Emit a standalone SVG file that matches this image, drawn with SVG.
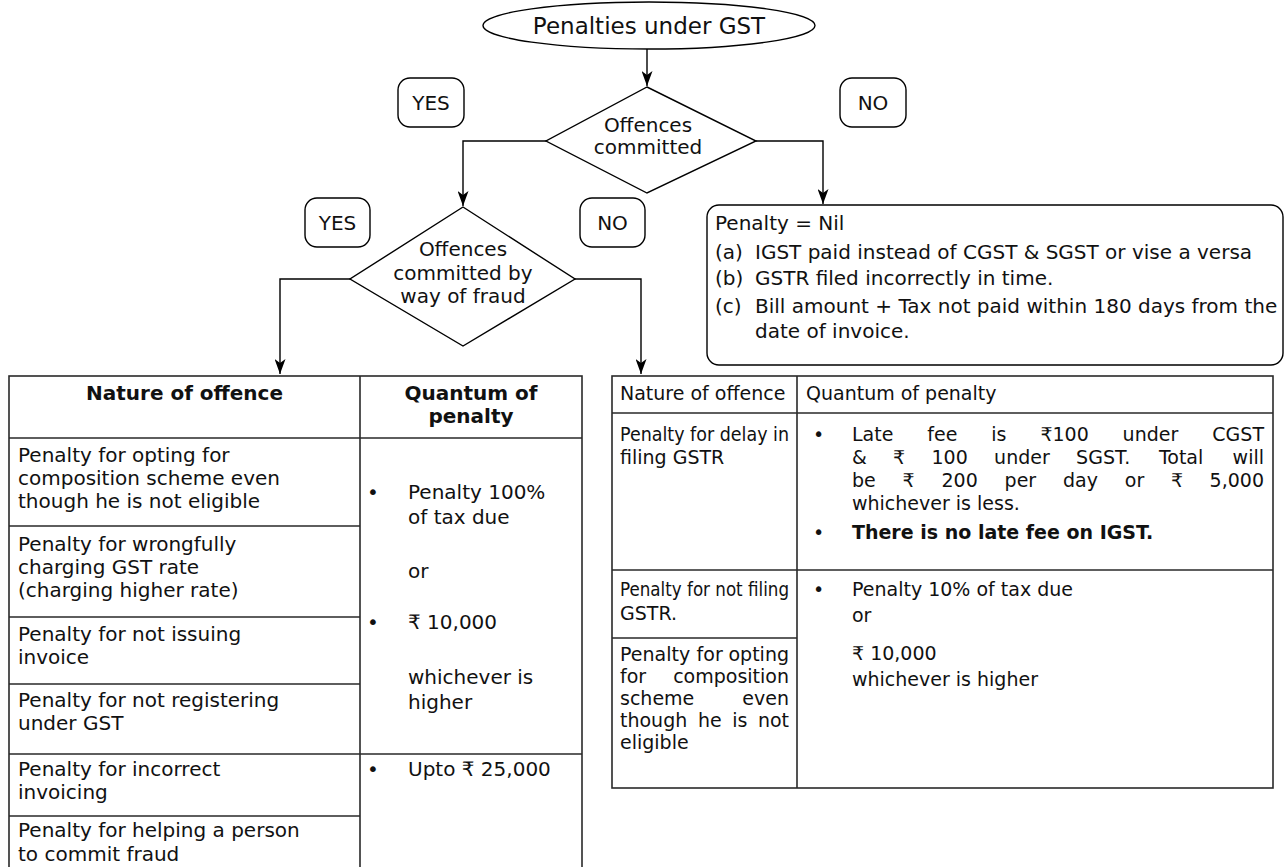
<svg xmlns="http://www.w3.org/2000/svg" width="1285" height="867" viewBox="0 0 1285 867">
<defs>
<style>
.t{font-family:"DejaVu Sans","Liberation Sans",sans-serif;font-size:20px;fill:#111}
.s{font-size:19px}
.h{font-size:23px}
.b{font-weight:bold}
.c{text-anchor:middle}
.e{text-anchor:end}
.shape{fill:#fff;stroke:#000;stroke-width:1.4}
.tbl{fill:none;stroke:#2a2a2a;stroke-width:1.6}
.conn{fill:none;stroke:#000;stroke-width:1.4}
</style>
<marker id="arr" viewBox="0 0 15 11" refX="15" refY="5.5" markerWidth="15" markerHeight="11" markerUnits="userSpaceOnUse" orient="auto">
<path d="M0,0 L15,5.5 L0,11 L4,5.5 z" fill="#000"/>
</marker>
</defs>
<rect width="1285" height="867" fill="#fff"/>

<g id="connectors">
<path class="conn" d="M647,49 V86" marker-end="url(#arr)"/>
<path class="conn" d="M546,141 H463 V206" marker-end="url(#arr)"/>
<path class="conn" d="M756,141 H823 V204" marker-end="url(#arr)"/>
<path class="conn" d="M350,279 H280 V374" marker-end="url(#arr)"/>
<path class="conn" d="M575,279 H641 V374" marker-end="url(#arr)"/>
</g>

<g id="start">
<ellipse class="shape" cx="649" cy="25.5" rx="166" ry="23.5"/>
<text class="t h c" x="649" y="34">Penalties under GST</text>
</g>

<g id="decision1">
<polygon class="shape" points="647,87 756,141 647,193 546,141"/>
<text class="t c" x="648" y="132">Offences</text>
<text class="t c" x="648" y="154">committed</text>
</g>

<g id="yes1">
<rect class="shape" x="398" y="78" width="66" height="49" rx="12"/>
<text class="t c" x="431" y="110">YES</text>
</g>
<g id="no1">
<rect class="shape" x="840" y="78" width="66" height="49" rx="12"/>
<text class="t c" x="873" y="110">NO</text>
</g>

<g id="decision2">
<polygon class="shape" points="463,207 575,279 463,346 350,279"/>
<text class="t c" x="463" y="256">Offences</text>
<text class="t c" x="463" y="280">committed by</text>
<text class="t c" x="463" y="303">way of fraud</text>
</g>

<g id="yes2">
<rect class="shape" x="305" y="198" width="65" height="49" rx="12"/>
<text class="t c" x="337.5" y="230">YES</text>
</g>
<g id="no2">
<rect class="shape" x="580" y="198" width="65" height="49" rx="12"/>
<text class="t c" x="612.5" y="230">NO</text>
</g>

<g id="nil">
<rect class="shape" x="707" y="205" width="576" height="160" rx="12"/>
<text class="t" x="715" y="230">Penalty = Nil</text>
<text class="t" x="715" y="259">(a)</text>
<text class="t" x="755" y="259">IGST paid instead of CGST &amp; SGST or vise a versa</text>
<text class="t" x="715" y="285">(b)</text>
<text class="t" x="755" y="285">GSTR filed incorrectly in time.</text>
<text class="t" x="715" y="313">(c)</text>
<text class="t" x="755" y="313">Bill amount + Tax not paid within 180 days from the</text>
<text class="t" x="755" y="338">date of invoice.</text>
</g>

<g id="fraud-table">
<rect class="tbl" x="9" y="376" width="573" height="504"/>
<path class="tbl" d="M360,376 V880 M9,438 H582 M9,526 H360 M9,617 H360 M9,684 H360 M9,754 H582 M9,816 H360"/>
<text class="t b c" x="184.5" y="400">Nature of offence</text>
<text class="t b c" x="471" y="400">Quantum of</text>
<text class="t b c" x="471" y="423">penalty</text>
<text class="t" x="18" y="462">Penalty for opting for</text>
<text class="t" x="18" y="485">composition scheme even</text>
<text class="t" x="18" y="508">though he is not eligible</text>
<text class="t" x="18" y="551">Penalty for wrongfully</text>
<text class="t" x="18" y="574">charging GST rate</text>
<text class="t" x="18" y="597">(charging higher rate)</text>
<text class="t" x="18" y="641">Penalty for not issuing</text>
<text class="t" x="18" y="664">invoice</text>
<text class="t" x="18" y="707">Penalty for not registering</text>
<text class="t" x="18" y="730">under GST</text>
<text class="t" x="18" y="776">Penalty for incorrect</text>
<text class="t" x="18" y="799">invoicing</text>
<text class="t" x="18" y="837">Penalty for helping a person</text>
<text class="t" x="18" y="861">to commit fraud</text>
<text class="t" x="367" y="499">•</text>
<text class="t" x="408" y="499">Penalty 100%</text>
<text class="t" x="408" y="524">of tax due</text>
<text class="t" x="408" y="578">or</text>
<text class="t" x="367" y="629">•</text>
<text class="t" x="408" y="629">₹ 10,000</text>
<text class="t" x="408" y="684">whichever is</text>
<text class="t" x="408" y="709">higher</text>
<text class="t" x="367" y="776">•</text>
<text class="t" x="408" y="776">Upto ₹ 25,000</text>
</g>

<g id="nonfraud-table">
<rect class="tbl" x="612" y="376" width="661" height="412"/>
<path class="tbl" d="M797,376 V788 M612,413 H1273 M612,570 H1273 M612,638 H797"/>
<text class="t s" x="620" y="400">Nature of offence</text>
<text class="t s" x="806" y="400">Quantum of penalty</text>
<text class="t s" x="620" y="441" textLength="169" lengthAdjust="spacingAndGlyphs">Penalty for delay in</text>
<text class="t s" x="620" y="464">filing GSTR</text>
<text class="t s" x="813" y="441">•</text>
<text class="t s" y="441"><tspan x="852">Late</tspan><tspan x="927.3">fee</tspan><tspan x="991.3">is</tspan><tspan x="1040.4">₹100</tspan><tspan x="1122.6">under</tspan></text>
<text class="t s e" x="1264" y="441">CGST</text>
<text class="t s" y="464"><tspan x="852">&amp;</tspan><tspan x="893.1">₹</tspan><tspan x="931.5">100</tspan><tspan x="994.1">under</tspan><tspan x="1076.1">SGST.</tspan><tspan x="1158.9">Total</tspan></text>
<text class="t s e" x="1264" y="464">will</text>
<text class="t s" y="487"><tspan x="852">be</tspan><tspan x="902.6">₹</tspan><tspan x="941.5">200</tspan><tspan x="1004.6">per</tspan><tspan x="1063">day</tspan><tspan x="1124.8">or</tspan><tspan x="1171">₹</tspan></text>
<text class="t s e" x="1264" y="487">5,000</text>
<text class="t s" x="852" y="510">whichever is less.</text>
<text class="t s" x="813" y="539">•</text>
<text class="t s b" x="852" y="539">There is no late fee on IGST.</text>
<text class="t s" x="620" y="596" textLength="169" lengthAdjust="spacingAndGlyphs">Penalty for not filing</text>
<text class="t s" x="620" y="620">GSTR.</text>
<text class="t s" x="813" y="596">•</text>
<text class="t s" x="852" y="596">Penalty 10% of tax due</text>
<text class="t s" x="852" y="622">or</text>
<text class="t s" x="852" y="660">₹ 10,000</text>
<text class="t s" x="852" y="686">whichever is higher</text>
<text class="t s" y="661"><tspan x="620">Penalty</tspan><tspan x="696.6">for</tspan></text>
<text class="t s e" x="789" y="661">opting</text>
<text class="t s" x="620" y="683">for</text>
<text class="t s e" x="789" y="683">composition</text>
<text class="t s" x="620" y="705">scheme</text>
<text class="t s e" x="789" y="705">even</text>
<text class="t s" y="727"><tspan x="620">though</tspan><tspan x="697.9">he</tspan><tspan x="732.2">is</tspan></text>
<text class="t s e" x="789" y="727">not</text>
<text class="t s" x="620" y="749">eligible</text>
</g>
</svg>
